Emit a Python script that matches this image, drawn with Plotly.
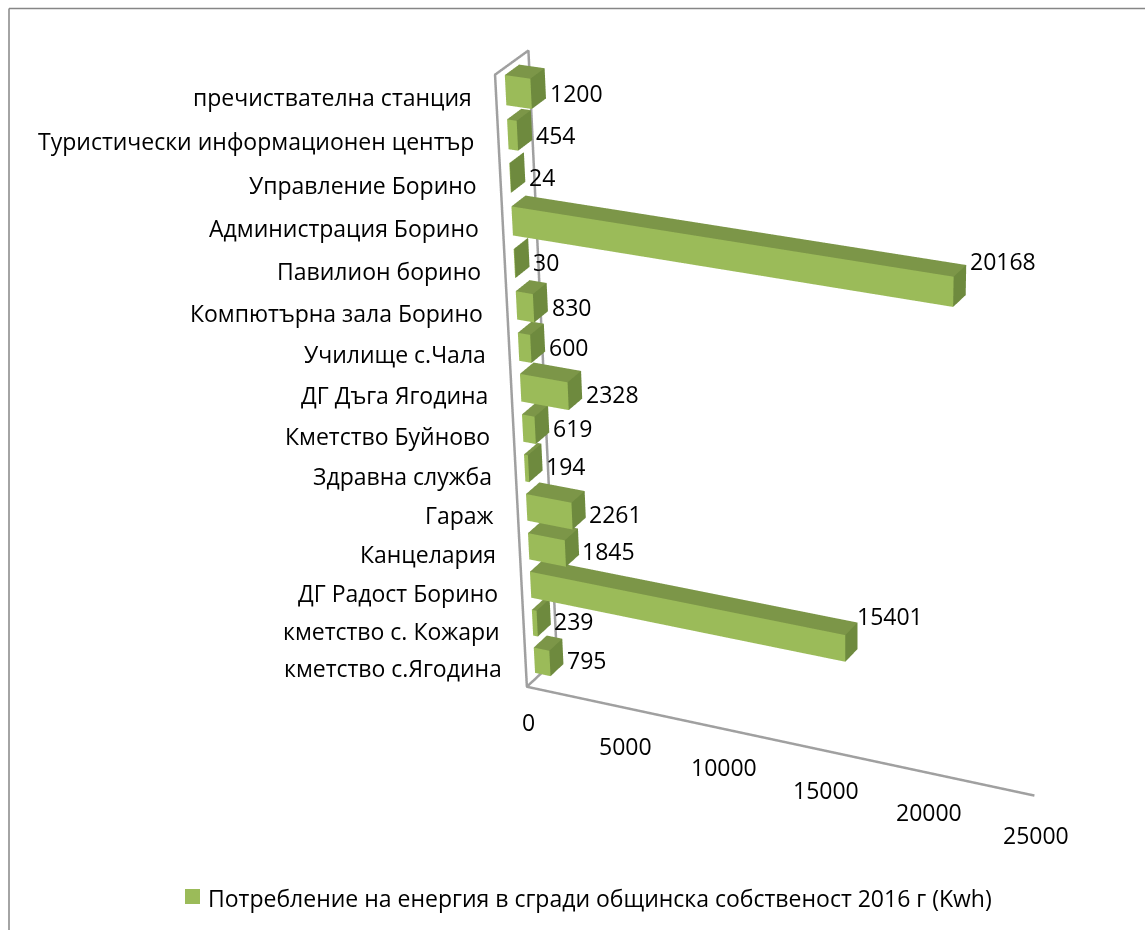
import numpy as np
import plotly.graph_objects as go

categories = ["кметство с.Ягодина", "кметство с. Кожари", "ДГ Радост Борино", "Канцелария", "Гараж",
              "Здравна служба", "Кметство Буйново", "ДГ Дъга Ягодина", "Училище с.Чала",
              "Компютърна зала Борино", "Павилион борино", "Администрация Борино", "Управление Борино",
              "Туристически информационен център", "пречиствателна станция"]
values = [795, 239, 15401, 1845, 2261, 194, 619, 2328, 600, 830, 30, 20168, 24, 454, 1200]
ticks = [0, 5000, 10000, 15000, 20000, 25000]
series_name = "Потребление на енергия в сгради общинска собственост 2016 г (Kwh)"
AXIS_MAX = 25000
FONT = "Open Sans"

# mild foreshortening so the orthographic scene reproduces the chart's perspective
KA, KB, KC = 0.0564, -0.01, 0.09
ZS = 0.993
def persp(x, y, z):
    w = 1 - KA * x - KB * y - KC * z
    return x / w, y / w, ZS * z / w

n = len(categories)
HALF = 0.34 / n
Y0, Y1 = 0.28, 0.71
FRONT, TOP, SIDE = "#9BBB59", "#7C9648", "#6E8A3E"

vx, vy, vz, I, J, K, fc = [], [], [], [], [], [], []
def quad(pts, color):
    b = len(vx)
    for p in pts:
        X, Y, Z = persp(*p)
        vx.append(X); vy.append(Y); vz.append(Z)
    I.extend([b, b]); J.extend([b + 1, b + 2]); K.extend([b + 2, b + 3]); fc.extend([color, color])

for i, v in enumerate(values):
    x1 = v / AXIS_MAX
    zc = (i + 0.5) / n
    z0, z1 = zc - HALF, zc + HALF
    quad([(0, Y0, z0), (x1, Y0, z0), (x1, Y0, z1), (0, Y0, z1)], FRONT)
    quad([(0, Y0, z1), (x1, Y0, z1), (x1, Y1, z1), (0, Y1, z1)], TOP)
    quad([(x1, Y0, z0), (x1, Y1, z0), (x1, Y1, z1), (x1, Y0, z1)], SIDE)

bars = go.Mesh3d(x=vx, y=vy, z=vz, i=I, j=J, k=K, facecolor=fc, flatshading=True,
                 lighting=dict(ambient=1, diffuse=0, specular=0, fresnel=0), hoverinfo="skip", showlegend=False)

frame_pts = [(0.985, 0, 0), (0, 0, 0), (0, 0, 1), (0, 1, 1), (0, 1, 0), (0, 0, 0)]
fp = [persp(*p) for p in frame_pts]
frame = go.Scatter3d(x=[p[0] for p in fp], y=[p[1] for p in fp], z=[p[2] for p in fp], mode="lines",
                     line=dict(color="#A0A0A0", width=5), hoverinfo="skip", showlegend=False)

anns = []
def ann(p, text, **kw):
    X, Y, Z = persp(*p)
    anns.append(dict(x=X, y=Y, z=Z, text=text, showarrow=False, font=dict(family=FONT, size=FS, color="#000"), **kw))

FS = 23
for i, c in enumerate(categories):
    ann((0, 0, (i + 0.5) / n), c, xanchor="right", yanchor="middle", xshift=-22)
for i, v in enumerate(values):
    big = v > 10000
    ann((v / AXIS_MAX, 1, (i + 0.5) / n), str(v), xanchor="left", yanchor="middle",
        xshift=(-11 if v < 20000 else -6) if big else -7, yshift=11 if big else -17)
for t in ticks:
    ann((t / AXIS_MAX, 0, 0), str(t), xanchor="center", yanchor="middle",
        xshift=2 - 9 * t / AXIS_MAX, yshift=-35 if t == 0 else -38)

# scene centre is placed on the page centre
R = 2.0
CX, CY, CZ = 0.0857, 0.5, 0.386
hidden = dict(visible=False, showspikes=False)
k = 4.75
fig = go.Figure([frame, bars])
fig.update_layout(
    width=1145, height=930, margin=dict(l=0, r=0, t=0, b=0), paper_bgcolor="white", showlegend=False,
    font=dict(family=FONT, size=23, color="#000"),
    scene=dict(
        domain=dict(x=[0, 1], y=[0, 1]),
        xaxis=dict(range=[CX - R, CX + R], **hidden),
        yaxis=dict(range=[CY - R, CY + R], **hidden),
        zaxis=dict(range=[CZ - R, CZ + R], **hidden),
        aspectmode="manual", aspectratio=dict(x=k, y=0.117 * k, z=1.1566 * k),
        camera=dict(projection=dict(type="orthographic"),
                    eye=dict(x=0.4332 * 2.165, y=-0.7654 * 2.165, z=0.4761 * 2.165),
                    center=dict(x=0, y=0, z=0), up=dict(x=-0.1890, y=0.4394, z=0.8782)),
        annotations=anns,
    ),
    annotations=[dict(xref="paper", yref="paper", x=206 / 1145, y=1 - 898 / 930, text=series_name, showarrow=False,
                      xanchor="left", yanchor="middle", font=dict(family=FONT, size=23, color="#000"))],
    shapes=[
        dict(type="line", xref="paper", yref="paper", x0=9 / 1145, x1=9 / 1145, y0=0, y1=1 - 8.5 / 930,
             line=dict(color="#868686", width=1.5)),
        dict(type="line", xref="paper", yref="paper", x0=9 / 1145, x1=1, y0=1 - 8.5 / 930, y1=1 - 8.5 / 930,
             line=dict(color="#868686", width=1.5)),
        dict(type="rect", xref="paper", yref="paper", x0=185 / 1145, x1=200 / 1145, y0=1 - 904 / 930, y1=1 - 889 / 930,
             fillcolor=FRONT, line=dict(width=0)),
    ],
)
fig.write_html("out.html", config=dict(displayModeBar=False),
               post_script="document.body.style.margin='0';document.documentElement.style.overflow='hidden';")
